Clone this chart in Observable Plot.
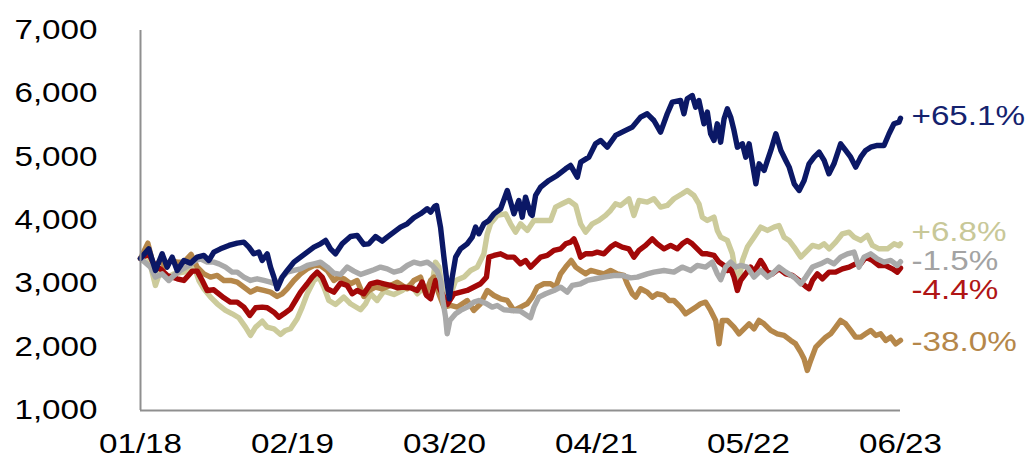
<!DOCTYPE html>
<html><head><meta charset="utf-8">
<script src="https://cdn.jsdelivr.net/npm/d3@7"></script>
<script src="https://cdn.jsdelivr.net/npm/@observablehq/plot@0.6"></script>
<style>
html,body{margin:0;padding:0;background:#fff;}
</style>
</head><body><div id="chart"></div>
<script>
// x = months since 01/2018
const xTicks = [0, 13, 26, 39, 52, 65];
const xTickLabels = ["01/18", "02/19", "03/20", "04/21", "05/22", "06/23"];
const yTicks = [1000, 2000, 3000, 4000, 5000, 6000, 7000];

const seriesKeys = ["khaki", "tan", "red", "gray", "navy"];
const endLabels = ["+6.8%", "-38.0%", "-4.4%", "-1.5%", "+65.1%"];

const navyT = [0,0.71,1.28,1.85,2.28,2.71,3.14,3.71,4.28,4.85,5.42,5.85,6.27,6.84,7.56,8.27,8.84,9.27,9.69,10.12,10.41,10.84,11.12,11.41,11.69,12.12,12.55,13.12,13.69,14.26,14.83,15.40,15.83,16.25,16.68,17.25,17.96,18.53,19.10,19.53,20.10,20.67,21.10,21.67,22.24,22.81,23.38,23.95,24.52,24.81,25.15,25.32,25.66,25.95,26.23,26.41,26.66,26.95,27.37,27.94,28.37,28.66,28.94,29.37,29.80,30.23,30.80,31.37,31.94,32.36,32.65,32.93,33.36,33.50,33.79,34.22,34.93,35.64,36.36,36.78,37.36,37.65,38.35,38.92,39.35,39.92,40.63,41.49,42.06,42.77,43.34,43.91,44.48,45.05,45.48,46.19,46.48,46.76,47.19,47.48,47.76,48.19,48.48,48.76,49.05,49.33,49.62,49.91,50.19,50.48,50.76,51.05,51.48,51.77,52.05,52.34,52.63,52.91,53.34,53.62,53.91,54.34,54.77,55.19,55.48,55.91,56.33,56.76,57.18,57.61,58.04,58.47,58.88,59.31,59.88,60.31,60.74,61.17,61.60,62.02,62.45,63.02,63.59,64.02,64.44,64.87,65];
const navyV = [3400,3553,3211,3474,3264,3422,3211,3369,3327,3422,3448,3369,3501,3553,3606,3643,3658,3580,3474,3501,3369,3474,3264,3106,2922,3106,3211,3343,3422,3501,3580,3632,3685,3553,3474,3632,3748,3764,3622,3632,3748,3674,3737,3816,3895,3948,4043,4106,4185,4132,4222,4237,3895,3422,3001,2764,3106,3422,3553,3632,3737,3895,3790,3948,4001,4106,4185,4474,4106,4316,4053,4369,4106,4080,4395,4527,4632,4711,4816,4869,4685,4922,5000,5211,5264,5158,5343,5422,5474,5632,5685,5579,5395,5685,5869,5895,5685,5922,5974,5790,5895,5527,5711,5369,5264,5527,5237,5606,5764,5632,5422,5158,5211,4999,5211,4895,4579,4895,4790,4948,5106,5369,5106,4948,4843,4579,4474,4632,4895,5000,5079,4948,4737,4895,5211,5106,5000,4843,5000,5106,5158,5185,5185,5369,5527,5553,5613];

const khakiT = [0,0.57,1.28,1.71,2.28,2.85,3.71,4.56,4.99,5.42,5.99,6.56,7.27,7.84,8.41,8.98,9.41,9.84,10.41,10.84,11.41,11.98,12.40,12.83,13.40,13.83,14.26,14.83,15.26,15.68,16.11,16.68,17.39,17.96,18.82,19.25,19.67,20.24,20.82,21.67,22.38,23.10,23.67,24.24,24.81,25.23,25.52,25.95,26.38,26.95,27.66,28.23,28.80,29.37,29.66,29.94,30.51,31.22,31.65,32.08,32.50,33.08,33.65,34.36,35.07,35.50,36.07,36.64,37.22,37.64,38.07,38.64,39.21,39.78,40.20,40.63,41.06,41.77,42.20,42.63,43.34,43.91,44.48,45.05,45.62,46.33,46.76,47.33,47.76,48.05,48.48,49.05,49.33,49.62,50.19,50.62,50.90,51.19,51.48,51.90,52.47,53.04,53.62,54.19,54.61,55.04,55.47,55.90,56.47,56.90,57.47,58.04,58.47,58.90,59.46,60.03,60.60,61.03,61.60,62.17,62.60,63.17,63.88,64.45,64.87,65];
const khakiV = [3400,3501,2974,3211,3095,3158,3185,3290,3053,2922,2790,2685,2580,2527,2464,2316,2185,2316,2411,2316,2290,2201,2264,2290,2448,2632,2843,3053,3106,2948,2737,2674,2790,2685,2590,2685,2843,2737,2885,2832,2895,2990,2843,2938,2843,3343,3264,2790,2750,3053,3106,3211,3264,3474,3790,3950,4080,4106,3948,3816,3948,3843,4001,4001,4001,4211,4264,4316,4237,3948,3816,3948,4001,4080,4158,4264,4237,4343,4080,4316,4290,4343,4211,4237,4343,4422,4474,4395,4264,4053,4001,4053,3843,3737,3685,3474,3158,3053,3369,3580,3737,3895,3843,3895,3922,3737,3685,3580,3422,3501,3606,3580,3632,3553,3658,3790,3816,3737,3685,3764,3606,3553,3553,3632,3600,3631];

const grayT = [0,0.86,1.28,1.85,2.42,2.85,3.42,4.13,4.70,5.13,5.70,6.27,6.70,7.27,7.84,8.27,8.84,9.41,9.98,10.55,11.12,11.69,12.12,12.55,13.12,13.69,14.26,14.83,15.40,15.97,16.54,17.11,17.68,18.25,18.82,19.39,19.96,20.53,21.10,21.67,22.24,22.81,23.38,23.95,24.52,24.95,25.38,25.66,25.86,26.09,26.23,26.46,26.66,26.95,27.37,27.94,28.51,28.94,29.51,30.08,30.51,31.08,31.65,32.50,33.36,33.65,34.07,34.65,35.36,35.94,36.50,36.93,37.64,38.21,38.92,39.63,40.49,41.20,41.92,42.49,43.34,43.91,44.77,45.62,46.33,47.05,47.62,48.33,48.90,49.33,49.62,50.04,50.47,50.90,51.33,51.90,52.47,53.04,53.62,54.04,54.61,55.19,55.90,56.47,56.90,57.47,58.18,58.75,59.31,59.88,60.46,61.03,61.45,61.88,62.45,63.02,63.59,64.16,64.73,65];
const grayV = [3400,3264,3106,3158,3053,3132,3211,3290,3369,3395,3343,3343,3316,3264,3185,3185,3106,3053,3080,3053,3027,2990,3106,3185,3211,3237,3290,3316,3343,3264,3169,3148,3264,3201,3148,3185,3222,3264,3237,3185,3211,3290,3343,3316,3343,3290,3201,3053,2737,2474,2211,2422,2464,2527,2580,2632,2711,2737,2695,2632,2658,2590,2580,2569,2464,2632,2790,2843,2895,2948,2869,2974,3001,3053,3080,3106,3132,3132,3095,3106,3158,3185,3211,3185,3264,3211,3290,3264,3343,3158,3064,3264,3343,3264,3290,3264,3106,3211,3106,3158,3264,3185,3106,3001,3106,3264,3316,3369,3316,3422,3474,3501,3264,3422,3474,3395,3343,3369,3290,3349];

const redT = [0,0.71,1.28,1.71,2.28,3.14,3.71,4.42,4.85,5.28,5.70,6.27,6.70,7.13,7.70,8.27,8.84,9.35,9.84,10.41,10.84,11.41,11.83,12.26,12.83,13.26,13.69,14.26,14.68,15.11,15.54,15.97,16.54,17.11,17.68,18.11,18.53,19.10,19.67,20.25,20.82,21.39,21.96,22.53,23.10,23.67,24.09,24.47,24.81,25.24,25.81,26.23,26.80,27.94,29.08,29.59,29.80,30.23,30.80,31.37,31.94,32.50,32.93,33.36,33.79,34.22,34.79,35.36,35.93,36.36,36.78,37.07,37.36,37.64,38.07,38.64,39.06,39.63,40.20,40.63,41.20,41.77,42.20,42.63,43.20,43.77,44.20,44.77,45.34,45.91,46.33,46.76,47.19,47.62,48.05,48.48,49.05,49.48,49.91,50.19,50.48,50.76,51.05,51.33,51.75,52.18,52.47,53.04,53.32,53.61,54.04,54.61,55.18,55.75,56.32,56.90,57.18,57.47,57.89,58.32,58.89,59.45,60.03,60.60,61.16,61.59,62.02,62.59,63.16,63.73,64.30,64.73,65];
const redV = [3400,3474,3264,3237,3132,3080,3053,3201,3201,3053,2895,2906,2843,2780,2711,2711,2632,2501,2622,2632,2622,2553,2474,2527,2606,2737,2869,3001,3106,3185,3106,2922,2869,3011,2974,2843,2895,2843,3001,3027,3001,2974,2937,2948,2937,2895,3027,2816,2764,3053,2843,2674,2843,2895,3001,3106,3422,3448,3474,3422,3422,3316,3369,3264,3343,3422,3448,3527,3553,3632,3658,3711,3580,3422,3474,3474,3501,3474,3580,3632,3580,3553,3422,3527,3606,3711,3632,3553,3606,3553,3632,3685,3632,3553,3474,3474,3448,3343,3290,3211,3237,3106,2895,3053,3158,3264,3185,3369,3290,3185,3158,3237,3158,3132,3053,2958,2922,3053,3158,3080,3185,3185,3237,3264,3316,3316,3422,3369,3290,3290,3237,3185,3250];

const tanT = [0,0.63,1.14,1.71,2.14,2.57,3.14,3.71,4.33,4.85,5.42,5.99,6.56,7.13,7.70,8.27,8.84,9.41,9.98,10.55,11.12,11.69,12.12,12.55,13.12,13.69,14.26,14.83,15.40,15.97,16.54,16.97,17.39,17.96,18.53,19.10,19.53,20.10,20.67,21.39,21.96,22.81,23.38,23.95,24.38,24.81,25.09,25.52,25.95,26.52,27.09,27.94,28.51,29.08,29.66,30.23,30.80,31.37,31.94,32.50,33.07,33.50,33.93,34.50,35.07,35.50,35.93,36.36,36.84,37.22,37.64,38.07,38.50,39.06,39.63,40.20,40.78,41.35,41.63,42.06,42.35,42.77,43.34,43.77,44.20,44.77,45.20,45.62,46.19,46.62,47.05,47.48,47.90,48.33,48.76,49.19,49.48,49.76,50.19,50.76,51.19,51.62,52.05,52.47,52.90,53.33,53.90,54.46,55.04,55.61,56.03,56.46,56.75,57.03,57.32,57.75,58.17,58.60,59.03,59.46,59.88,60.31,60.74,61.16,61.59,62.02,62.45,62.88,63.30,63.73,64.16,64.59,65];
const tanV = [3400,3643,3264,3369,3264,3369,3343,3343,3464,3264,3158,3106,3132,3053,3053,3027,2948,2869,2922,2895,2869,2801,2843,2922,3053,3158,3237,3290,3290,3211,3053,3106,3080,3001,3053,2801,2895,2948,2922,2974,3027,2922,3053,3106,2843,3053,3106,2843,2632,2658,2632,2737,2580,2685,2895,2816,2764,2737,2580,2632,2685,2790,2948,3001,3001,2948,3158,3264,3369,3264,3211,3158,3211,3185,3158,3211,3158,3132,3001,2843,2790,2922,2869,2790,2843,2816,2737,2737,2632,2527,2580,2632,2685,2711,2580,2422,2053,2422,2422,2316,2211,2290,2369,2290,2422,2369,2264,2211,2185,2106,2053,1922,1816,1632,1790,2001,2080,2158,2211,2316,2422,2369,2264,2158,2158,2211,2264,2185,2211,2106,2158,2053,2108];

const seriesT = {navy: navyT, khaki: khakiT, gray: grayT, red: redT, tan: tanT};
const seriesV = {navy: navyV, khaki: khakiV, gray: grayV, red: redV, tan: tanV};

// styles (not data)
const colors = {khaki: "#cccb9b", tan: "#b5874a", red: "#a30808", gray: "#a9a9a9", navy: "#0b1866"};
const labelColors = {khaki: "#c8c898", tan: "#b5874a", red: "#b01515", gray: "#a3a3a3", navy: "#14226e"};
const labelDy = {khaki: -12, tan: 2, red: 22, gray: 0, navy: -2};

const rows = seriesKeys.flatMap(k => seriesT[k].map((t, i) => ({series: k, t, v: seriesV[k][i]})));
const ends = seriesKeys.map((k, i) => ({series: k, t: seriesT[k][seriesT[k].length - 1], v: seriesV[k][seriesV[k].length - 1], label: endLabels[i]}));

const chart = Plot.plot({
  width: 1034,
  height: 459,
  marginLeft: 140,
  marginRight: 134,
  marginTop: 30,
  marginBottom: 49,
  style: {fontFamily: "'Liberation Sans', Arial, sans-serif", fontSize: "27px", color: "#000", background: "#fff"},
  x: {type: "linear", domain: [0, 65], label: null},
  y: {domain: [1000, 7000], label: null},
  marks: [
    Plot.line(rows, {x: "t", y: "v", z: "series", stroke: d => colors[d.series], strokeWidth: 5.4, strokeLinejoin: "round", strokeLinecap: "round"}),
    Plot.ruleX([0], {y1: 1000, y2: 7000, stroke: "#8f8f8f", strokeWidth: 2}),
    Plot.ruleY([1000], {x1: 0, x2: 65, stroke: "#8f8f8f", strokeWidth: 2}),
    Plot.axisX({ticks: xTicks, tickFormat: d => xTickLabels[xTicks.indexOf(d)], tickSize: 0, tickPadding: 23, fontSize: 27, label: null}),
    Plot.axisY({ticks: yTicks, tickFormat: d3.format(","), tickSize: 0, tickPadding: 43, fontSize: 27, label: null}),
    ...ends.map(e => Plot.text([e], {x: "t", y: "v", text: "label", fill: labelColors[e.series], dx: 11, dy: labelDy[e.series], textAnchor: "start", fontSize: 27}))
  ]
});
// widen glyphs horizontally around each text's anchor point (reference type is stretched)
d3.select(chart).selectAll("text").each(function() {
  const x = +(this.getAttribute("x") || 0);
  const tr = this.getAttribute("transform") || "";
  this.setAttribute("transform", `${tr} translate(${x},0) scale(1.23,1) translate(${-x},0)`.trim());
});
document.getElementById("chart").appendChild(chart);
</script>
</body></html>
